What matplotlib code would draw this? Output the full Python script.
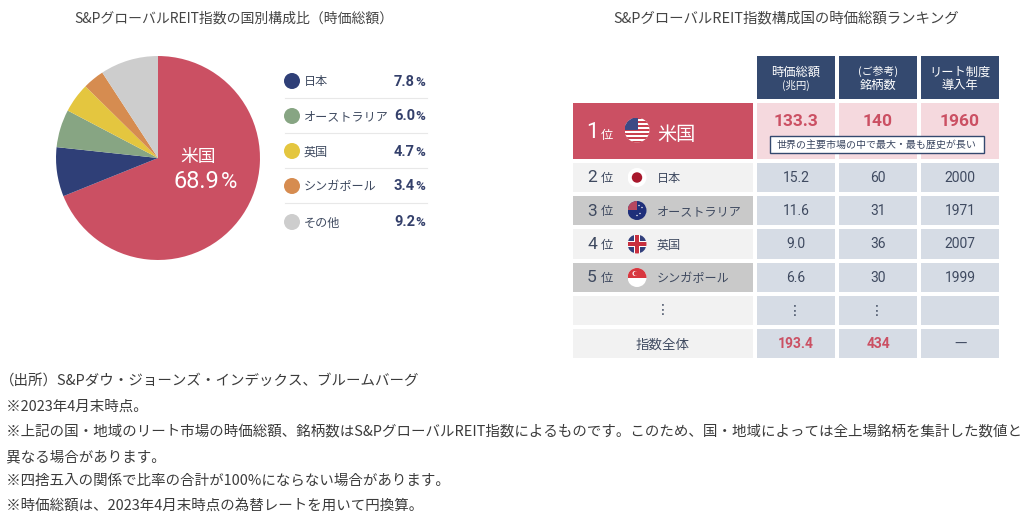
import matplotlib.pyplot as plt
from matplotlib.patches import Circle, Rectangle

plt.rcParams['font.family'] = ['Noto Sans CJK JP', 'DejaVu Sans']

NUM_FONT = ['Roboto', 'DejaVu Sans']
NAVY = '#34406b'
TXT = '#3f4a60'
RED = '#cb5063'
HEAD = '#34496f'

# pie / legend data
countries = ['米国', '日本', 'オーストラリア', '英国', 'シンガポール', 'その他']
shares = [68.9, 7.8, 6.0, 4.7, 3.4, 9.2]
colors = [RED, '#2f3f77', '#87a583', '#e4c63f', '#d68c50', '#cdcdcd']

# table data
headers_top = ['時価総額', '(ご参考)', 'リート制度']
headers_bottom = ['(兆円)', '銘柄数', '導入年']
ranks = ['1', '2', '3', '4', '5']
market_cap = ['133.3', '15.2', '11.6', '9.0', '6.6', '⋮', '193.4']
n_stocks = ['140', '60', '31', '36', '30', '⋮', '434']
intro_year = ['1960', '2000', '1971', '2007', '1999', '', '—']

notes = [
    '（出所）S&Pダウ・ジョーンズ・インデックス、ブルームバーグ',
    ' ※2023年4月末時点。',
    ' ※上記の国・地域のリート市場の時価総額、銘柄数はS&PグローバルREIT指数によるものです。このため、国・地域によっては全上場銘柄を集計した数値と',
    ' 異なる場合があります。',
    ' ※四捨五入の関係で比率の合計が100%にならない場合があります。',
    ' ※時価総額は、2023年4月末時点の為替レートを用いて円換算。',
]
note_x = [0, 3, 3, 3, 3, 3]
note_y = [382, 407, 432, 457, 481, 506]

fig = plt.figure(figsize=(10.24, 5.16), dpi=100)

# whole figure in pixel coordinates
ax = fig.add_axes([0, 0, 1, 1])
ax.set_xlim(0, 1024)
ax.set_ylim(516, 0)
ax.axis('off')

ax.text(234, 19, 'S&PグローバルREIT指数の国別構成比（時価総額）', fontsize=10,
        color='#444444', ha='center', va='center')
ax.text(786.5, 19, 'S&PグローバルREIT指数構成国の時価総額ランキング', fontsize=10.4,
        color='#444444', ha='center', va='center')

# pie
pie_ax = fig.add_axes([(158 - 103) / 1024, 1 - (158 + 103) / 516, 206 / 1024, 206 / 516])
pie_ax.pie(shares, colors=colors, startangle=90, counterclock=False, radius=1.0,
           wedgeprops={'linewidth': 0})
pie_ax.set_xlim(-1.01, 1.01)
pie_ax.set_ylim(-1.01, 1.01)
ax.set_zorder(pie_ax.get_zorder() + 1)
ax.patch.set_alpha(0)
ax.text(198, 157, countries[0], fontsize=12.8, color='white', ha='center', va='center')
ax.text(219, 182, f'{shares[0]}', fontsize=17, color='white', ha='right', va='center',
        family=NUM_FONT)
ax.text(237, 183, '%', fontsize=16, color='white', ha='right', va='center', family=NUM_FONT)

# legend
legend_y = [81, 116, 151, 186, 222]
for i, y in enumerate(legend_y):
    ax.add_patch(Circle((292, y), 8, color=colors[i + 1], lw=0))
    ax.text(304, y + 1, countries[i + 1], fontsize=8.7, color=TXT, ha='left', va='center')
    ax.text(415, y + 0.5, f'{shares[i + 1]}', fontsize=10.5, fontweight='bold', color=NAVY,
            ha='right', va='center', family=NUM_FONT)
    ax.text(425, y + 1, '%', fontsize=9.5, fontweight='bold', color=NAVY,
            ha='right', va='center', family=NUM_FONT)
    if i < 4:
        ax.plot([285, 427], [y + 17, y + 17], color='#e8e8e8', lw=0.8)

# table
col_x = [757, 839, 921]
col_w = 78
row_top = [103, 163, 196, 229, 263, 296, 329]
row_h = [56, 29, 29, 30, 29, 29, 29]
flag_x = 637

for x, top, bottom in zip(col_x, headers_top, headers_bottom):
    ax.add_patch(Rectangle((x, 56), col_w, 43, color=HEAD, lw=0))
    small = top.startswith('(')
    ax.text(x + col_w / 2, 72 if not small else 71, top, fontsize=8.8 if not small else 7.8,
            color='white', ha='center', va='center')
    small = bottom.startswith('(')
    ax.text(x + col_w / 2, 85, bottom, fontsize=7.5 if small else 8.8,
            color='white', ha='center', va='center')

left_bg = [RED, '#f2f2f2', '#c9c9c9', '#f2f2f2', '#c9c9c9', '#f2f2f2', '#f2f2f2']
for r, (top, h) in enumerate(zip(row_top, row_h)):
    ax.add_patch(Rectangle((573, top), 180, h, color=left_bg[r], lw=0))
    cell = '#f5d9de' if r == 0 else '#d6dce5'
    for x, col in zip(col_x, [market_cap, n_stocks, intro_year]):
        ax.add_patch(Rectangle((x, top), col_w, h, color=cell, lw=0))
        c = RED if r in (0, 6) else TXT
        if col[r] == '⋮':
            ax.text(x + col_w / 2 - 1, top + h / 2, col[r], fontsize=10, color=TXT,
                    ha='center', va='center', family=['DejaVu Sans'])
        elif col[r] == '—':
            ax.text(x + col_w / 2 + 1, top + h / 2, col[r], fontsize=10, color=TXT,
                    ha='center', va='center')
        else:
            ax.text(x + col_w / 2, top + (18 if r == 0 else h / 2 + 0.5), col[r],
                    fontsize=12.5 if r == 0 else 10, color=c,
                    fontweight='bold' if r in (0, 6) else 'normal',
                    ha='center', va='center', family=NUM_FONT)


def flag(cx, cy, rad, name):
    clip = Circle((cx, cy), rad, transform=ax.transData)
    def clipped(p):
        ax.add_patch(p)
        p.set_clip_path(clip)
    if name == 'us':
        clipped(Rectangle((cx - rad, cy - rad), 2 * rad, 2 * rad, color='white', lw=0))
        n = 7
        for k in range(n):
            clipped(Rectangle((cx - rad, cy - rad + k * 2 * rad / (n - 0.5)), 2 * rad,
                              rad / (n - 0.5), color='#c8414f', lw=0))
        clipped(Rectangle((cx - rad, cy - rad), rad * 1.05, rad, color='#3c4a85', lw=0))
    elif name == 'jp':
        clipped(Rectangle((cx - rad, cy - rad), 2 * rad, 2 * rad, color='white', lw=0))
        ax.add_patch(Circle((cx, cy), rad * 0.55, color='#a8182c', lw=0))
    elif name == 'au':
        clipped(Rectangle((cx - rad, cy - rad), 2 * rad, 2 * rad, color='#1f2f7a', lw=0))
        clipped(Rectangle((cx - rad, cy - rad), rad, rad * 0.9, color='#b7485f', lw=0))
        for sx, sy in [(3, 3), (5, -3), (2, -5), (0, 5)]:
            ax.add_patch(Circle((cx + sx, cy + sy), 0.7, color='white', lw=0))
    elif name == 'uk':
        clipped(Rectangle((cx - rad, cy - rad), 2 * rad, 2 * rad, color='white', lw=0))
        for sx in (-1, 1):
            for sy in (-1, 1):
                clipped(Rectangle((cx + (sx - 1) * rad / 2 + sx * 3, cy + (sy - 1) * rad / 2 + sy * 3),
                                  rad, rad, color='#33407c', lw=0))
        clipped(Rectangle((cx - 1.6, cy - rad), 3.2, 2 * rad, color='#c8303f', lw=0))
        clipped(Rectangle((cx - rad, cy - 1.6), 2 * rad, 3.2, color='#c8303f', lw=0))
    elif name == 'sg':
        clipped(Rectangle((cx - rad, cy - rad), 2 * rad, 2 * rad, color='white', lw=0))
        clipped(Rectangle((cx - rad, cy - rad), 2 * rad, rad, color='#d8373f', lw=0))
        ax.add_patch(Circle((cx - 2, cy - 4), 2.5, color='white', lw=0))
        ax.add_patch(Circle((cx - 1, cy - 4), 2.3, color='#d8373f', lw=0))


# first row
ax.text(592, 132, ranks[0], fontsize=16, color='white', ha='center', va='center', family=NUM_FONT)
ax.text(607, 135, '位', fontsize=8.8, color='white', ha='center', va='center')
flag(637, 130, 12.5, 'us')
ax.text(657, 134, countries[0], fontsize=13.8, color='white', ha='left', va='center')

ax.add_patch(Rectangle((769.5, 135.5), 214, 17, fc='white', ec=HEAD, lw=1.0))
ax.text(876.5, 144.5, '世界の主要市場の中で最大・最も歴史が長い', fontsize=7.2, color='#3a4660',
        ha='center', va='center')

# rows 2-5
flag_names = ['jp', 'au', 'uk', 'sg']
for i, name in enumerate(flag_names):
    top, h = row_top[i + 1], row_h[i + 1]
    y = top + h / 2
    ax.text(592, y + 0.5, ranks[i + 1], fontsize=12.5, color=TXT, ha='center', va='center', family=NUM_FONT)
    ax.text(607, y + 1, '位', fontsize=8.8, color=TXT, ha='center', va='center')
    flag(flag_x, y, 9.5, name)
    ax.text(657, y + 1, countries[i + 1], fontsize=8.7, color=TXT, ha='left', va='center')

ax.text(663, row_top[5] + 14, '⋮', fontsize=10, color=TXT, ha='center', va='center',
        family=['DejaVu Sans'])
ax.text(663, row_top[6] + 15.5, '指数全体', fontsize=9.7, color=TXT, ha='center', va='center')

# footnotes
for x, y, line in zip(note_x, note_y, notes):
    ax.text(x, y, line, fontsize=10.42, color='#3b3b3b', ha='left', va='center')

fig.savefig('out.png', dpi=100)
